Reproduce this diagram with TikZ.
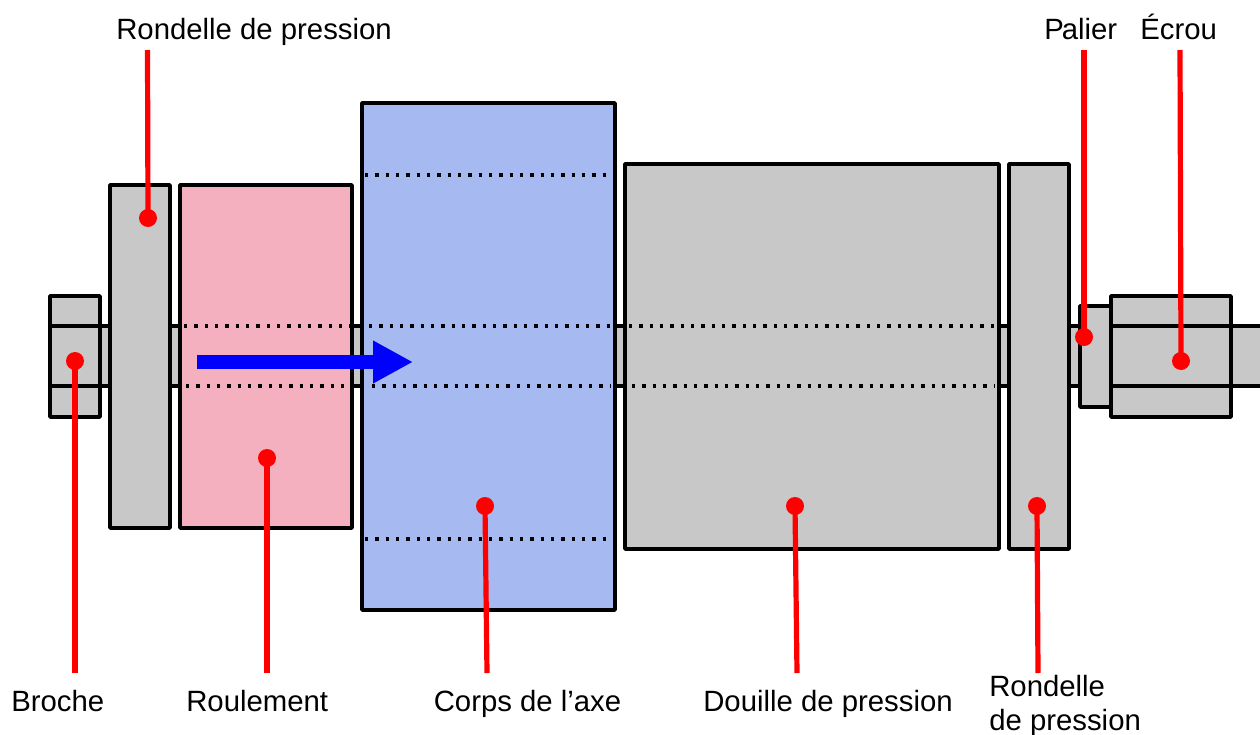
\documentclass[tikz,border=0pt]{standalone}
\usepackage{fontspec}
\setmainfont{Liberation Sans}
\usetikzlibrary{arrows.meta}
\definecolor{partgrey}{HTML}{C8C8C8}
\definecolor{partpink}{HTML}{F5B0BF}
\definecolor{partblue}{HTML}{A6B9F0}
\tikzset{
  x=0.75pt,y=-0.75pt,
  part/.style={draw=black,line width=2.7pt,line join=round},
  greypart/.style={part,fill=partgrey},
  solidedge/.style={draw=black,line width=2.7pt},
  dottededge/.style={draw=black,line width=2.5pt,dash pattern=on 2.5pt off 5.25pt},
  pin/.style={circle,fill=red,inner sep=0pt,minimum size=13.5pt},
  pinline/.style={draw=red,line width=3.9pt},
  lab/.style={anchor=base west,inner sep=0pt,font=\fontsize{22}{25.5}\selectfont},
  motion/.style={draw=blue,line width=10.5pt,-{Triangle[length=30pt,width=30pt]}}
}
\begin{document}
\begin{tikzpicture}
\useasboundingbox (0,0) rectangle (1260,735);
% shaft
\fill[partgrey] (50,326) rectangle (1260,386);
\coordinate (sl1) at (50,326); \coordinate (sr1) at (1260,326);
\coordinate (sl2) at (50,386); \coordinate (sr2) at (1260,386);
\draw[solidedge] (sl1) -- (sr1);
\draw[solidedge] (sl2) -- (sr2);
% parts
\draw[greypart] (50,296) rectangle (100,417);
\draw[solidedge] (50,326) -- (100,326) (50,386) -- (100,386);
\draw[greypart] (110,185) rectangle (170,528);
\draw[part,fill=partpink] (180,185) rectangle (352,528);
\draw[part,fill=partblue] (362,103) rectangle (615,610);
\draw[greypart] (625,164) rectangle (999,549);
\draw[greypart] (1009,164) rectangle (1069,549);
\draw[greypart] (1080,306) rectangle (1111,407);
\draw[greypart] (1111,296) rectangle (1231,417);
\draw[solidedge] (1111,326) -- (1231,326) (1111,386) -- (1231,386);
% hidden edges
\draw[dottededge] (184,326) -- (350,326);
\draw[dottededge] (186,386) -- (346,386);
\draw[dottededge] (369,326) -- (610,326);
\draw[dottededge] (372,386) -- (610,386);
\draw[dottededge] (365,175) -- (610,175);
\draw[dottededge] (365,539) -- (610,539);
\draw[dottededge] (629,326) -- (995,326);
\draw[dottededge] (632,386) -- (995,386);
% motion arrow
\coordinate (mstart) at (197,362);
\coordinate (mend) at (413,362);
\draw[motion] (mstart) -- (mend);
% pins and labels
\node[pin] (p1) at (148,218) {};
\node[pin] (p2) at (1084,337) {};
\node[pin] (p3) at (1181,361) {};
\node[pin] (p4) at (75,361) {};
\node[pin] (p5) at (267,458) {};
\node[pin] (p6) at (485,506) {};
\node[pin] (p7) at (795,506) {};
\node[pin] (p8) at (1037,506) {};
\coordinate (e1) at (147.5,50);
\coordinate (e2) at (1084,50);
\coordinate (e3) at (1180,50);
\coordinate (e4) at (75,673);
\coordinate (e5) at (267,673);
\coordinate (e6) at (487,673);
\coordinate (e7) at (797,673);
\coordinate (e8) at (1038,673);
\foreach \i in {1,...,8} {\draw[pinline] (e\i) -- (p\i.center);}
\node[lab] (t1) at (116,40) {Rondelle de pression};
\node[lab] (t2) at (1044,40) {P\kern-1.5pt alier};
\node[lab] (t3) at (1140,40) {Écrou};
\node[lab] (t4) at (11,711) {Broche};
\node[lab] (t5) at (186,711) {Roulement};
\node[lab] (t6) at (433.5,711) {Corps de l’axe};
\node[lab] (t7) at (703,711) {Douille de pression};
\node[lab,align=left] (t8) at (989,730) {Rondelle\\de pression};
\end{tikzpicture}
\end{document}
